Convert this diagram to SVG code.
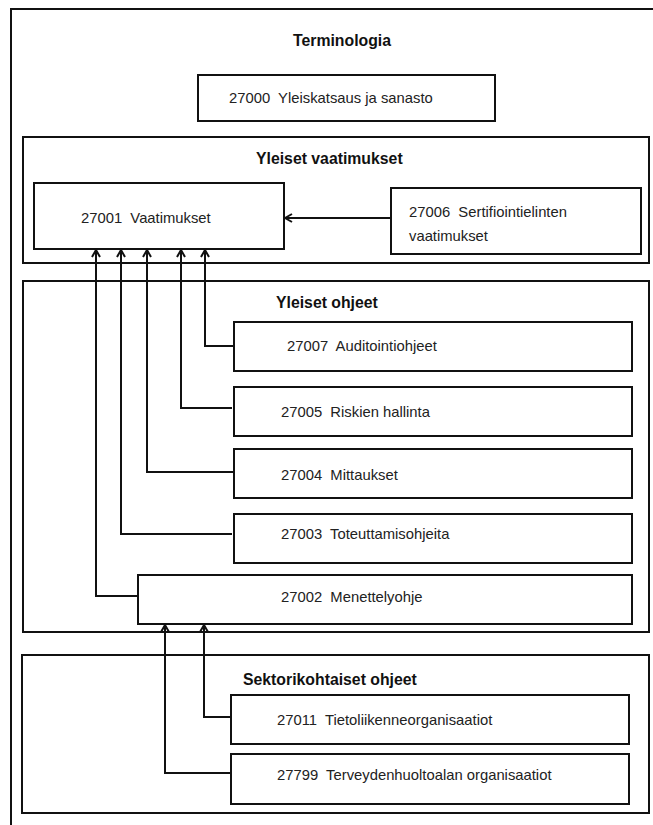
<svg xmlns="http://www.w3.org/2000/svg" width="653" height="825" viewBox="0 0 653 825">
  <style>
    .frame { fill: none; stroke: #111; stroke-width: 2; }
    .box { fill: #fff; stroke: #111; stroke-width: 2; }
    .title { font-family: "Liberation Sans", Arial, sans-serif; font-size: 15.8px; font-weight: bold; fill: #111; }
    .label { font-family: "Liberation Sans", Arial, sans-serif; font-size: 14.8px; fill: #222; }
    .link { fill: none; stroke: #111; stroke-width: 2; }
  </style>
  <defs>
    <marker id="arrow" viewBox="0 0 10 10" refX="9" refY="5" markerWidth="10" markerHeight="10" markerUnits="userSpaceOnUse" orient="auto">
      <path d="M2,1 L9,5 L2,9" fill="none" stroke="#111" stroke-width="2"/>
    </marker>
  </defs>

  <rect width="653" height="825" fill="#fff"/>

  <!-- outer frame: Terminologia -->
  <g id="terminologia">
    <rect class="frame" x="11" y="9" width="660" height="830"/>
    <text class="title" x="293" y="46">Terminologia</text>
  </g>

  <!-- section frames -->
  <g id="yleiset-vaatimukset">
    <rect class="frame" x="23" y="137" width="626" height="126"/>
    <text class="title" x="256" y="164">Yleiset vaatimukset</text>
  </g>
  <g id="yleiset-ohjeet">
    <rect class="frame" x="23" y="281" width="626" height="351"/>
    <text class="title" x="276" y="308">Yleiset ohjeet</text>
  </g>
  <g id="sektorikohtaiset-ohjeet">
    <rect class="frame" x="22" y="655" width="627" height="158"/>
    <text class="title" x="243" y="685">Sektorikohtaiset ohjeet</text>
  </g>

  <!-- standard nodes -->
  <g id="n27000">
    <rect class="box" x="198" y="75" width="297" height="46"/>
    <text class="label" x="229" y="103" xml:space="preserve">27000  Yleiskatsaus ja sanasto</text>
  </g>
  <g id="n27001">
    <rect class="box" x="34" y="183" width="250" height="66"/>
    <text class="label" x="81" y="223" xml:space="preserve">27001  Vaatimukset</text>
  </g>
  <g id="n27006">
    <rect class="box" x="391" y="188" width="250" height="66"/>
    <text class="label" x="409" y="217" xml:space="preserve">27006  Sertifiointielinten</text>
    <text class="label" x="409" y="241">vaatimukset</text>
  </g>
  <g id="n27007">
    <rect class="box" x="234" y="322" width="398" height="49"/>
    <text class="label" x="287" y="351" xml:space="preserve">27007  Auditointiohjeet</text>
  </g>
  <g id="n27005">
    <rect class="box" x="234" y="387" width="398" height="49"/>
    <text class="label" x="281" y="417" xml:space="preserve">27005  Riskien hallinta</text>
  </g>
  <g id="n27004">
    <rect class="box" x="234" y="449" width="398" height="49"/>
    <text class="label" x="281" y="480" xml:space="preserve">27004  Mittaukset</text>
  </g>
  <g id="n27003">
    <rect class="box" x="234" y="514" width="398" height="49"/>
    <text class="label" x="281" y="539" xml:space="preserve">27003  Toteuttamisohjeita</text>
  </g>
  <g id="n27002">
    <rect class="box" x="138" y="575" width="494" height="49"/>
    <text class="label" x="281" y="602" xml:space="preserve">27002  Menettelyohje</text>
  </g>
  <g id="n27011">
    <rect class="box" x="231" y="695" width="398" height="49"/>
    <text class="label" x="277" y="725" xml:space="preserve">27011  Tietoliikenneorganisaatiot</text>
  </g>
  <g id="n27799">
    <rect class="box" x="231" y="754" width="398" height="50"/>
    <text class="label" x="277" y="780" xml:space="preserve">27799  Terveydenhuoltoalan organisaatiot</text>
  </g>

  <!-- connectors -->
  <g id="connectors">
    <path class="link" d="M391,218 H285" marker-end="url(#arrow)"/>
    <path class="link" d="M234,346 H205 V250" marker-end="url(#arrow)"/>
    <path class="link" d="M232,408 H181 V250" marker-end="url(#arrow)"/>
    <path class="link" d="M234,472 H147 V250" marker-end="url(#arrow)"/>
    <path class="link" d="M232,534 H121 V250" marker-end="url(#arrow)"/>
    <path class="link" d="M138,596 H96 V250" marker-end="url(#arrow)"/>
    <path class="link" d="M231,717 H204 V625" marker-end="url(#arrow)"/>
    <path class="link" d="M231,773 H165 V625" marker-end="url(#arrow)"/>
  </g>
</svg>
